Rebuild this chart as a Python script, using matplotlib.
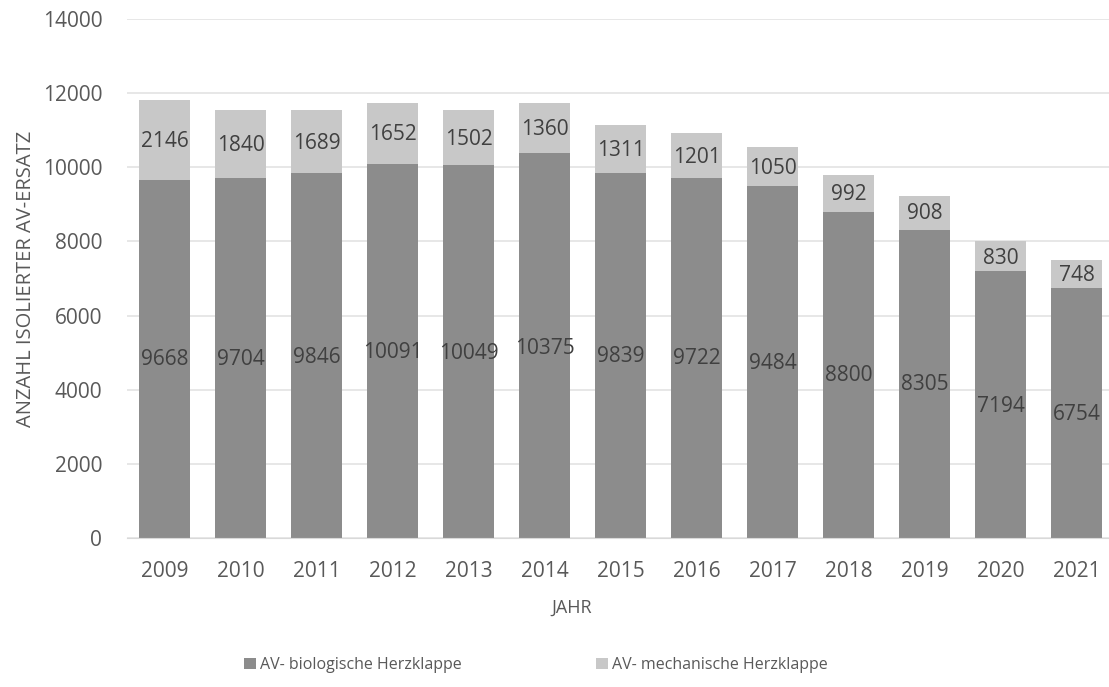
import matplotlib.pyplot as plt

plt.rcParams['font.family'] = ['Open Sans', 'DejaVu Sans']

years = ['2009', '2010', '2011', '2012', '2013', '2014', '2015',
         '2016', '2017', '2018', '2019', '2020', '2021']
biologisch = [9668, 9704, 9846, 10091, 10049, 10375, 9839,
              9722, 9484, 8800, 8305, 7194, 6754]
mechanisch = [2146, 1840, 1689, 1652, 1502, 1360, 1311,
              1201, 1050, 992, 908, 830, 748]

# heights (axis units) of the hand-placed data labels
label_y_bio = [4809, 4809, 4872, 5007, 4971, 5124, 4882,
               4829, 4694, 4380, 4137, 3542, 3318]
label_y_mech = [10697, 10589, 10634, 10876, 10742, 11011, 10440,
                10269, 9973, 9255, 8743, 7545, 7076]

dark = '#8c8c8c'
light = '#c8c8c8'
text_col = '#595959'

fig = plt.figure(figsize=(11.09, 6.87), dpi=100)
# plot area runs slightly past the right edge of the figure
ax = fig.add_axes([0.1141, 0.2169, 0.8909, 0.7555])

x = range(len(years))
ax.bar(x, biologisch, width=0.67, color=dark, label='AV- biologische Herzklappe', zorder=2)
ax.bar(x, mechanisch, width=0.67, bottom=biologisch, color=light,
       label='AV- mechanische Herzklappe', zorder=2)

for i in x:
    ax.text(i, label_y_bio[i], str(biologisch[i]), ha='center', va='center',
            fontsize=15, color='#404040', zorder=3)
    ax.text(i, label_y_mech[i], str(mechanisch[i]), ha='center', va='center',
            fontsize=15, color='#404040', zorder=3)

ax.set_xlim(-0.5, 12.5)
ax.set_ylim(0, 14000)
ax.set_yticks(range(0, 14001, 2000))
ax.set_xticks(list(x))
ax.set_xticklabels(years)
ax.grid(axis='y', color='#e3e3e3', linewidth=1.2, zorder=0)
ax.tick_params(length=0, labelsize=15, colors=text_col)
ax.tick_params(axis='x', pad=16.3)
ax.tick_params(axis='y', pad=17.5)
for s in ['top', 'right', 'left']:
    ax.spines[s].set_visible(False)
ax.spines['bottom'].set_color('#d9d9d9')

ax.set_xlabel('JAHR', fontsize=13, color=text_col, labelpad=12.5, x=0.451)
ax.set_ylabel('ANZAHL ISOLIERTER AV-ERSATZ', fontsize=14.5, color=text_col, labelpad=5)

fig.legend(loc='center', bbox_to_anchor=(0.483, 0.032), ncol=2, frameon=False,
           fontsize=11.5, labelcolor=text_col, handlelength=0.75, handleheight=0.75,
           handletextpad=0.25, columnspacing=8.4)

fig.savefig('out.png', dpi=100)
